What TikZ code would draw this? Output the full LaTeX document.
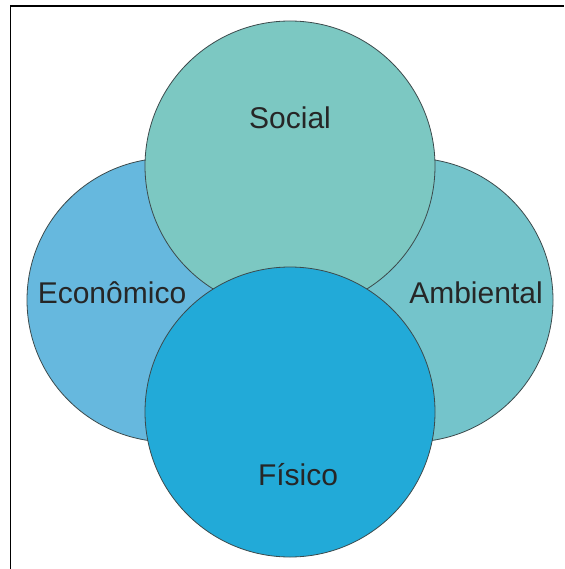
\documentclass[tikz,border=0pt]{standalone}
\usepackage{fontspec}
\setmainfont{Liberation Sans}
\definecolor{socialfill}{HTML}{7CC8C2}
\definecolor{econfill}{HTML}{66B8DE}
\definecolor{ambfill}{HTML}{74C4CB}
\definecolor{fisfill}{HTML}{22AAD8}
\definecolor{edge}{HTML}{3C4A4C}
\tikzset{
  area/.style={circle, draw=edge, line width=0.8pt, inner sep=0pt, minimum size=#1},
  area/.default=290pt,
  tag/.style={font=\fontsize{30}{36}\selectfont, text=black!85}
}

\begin{document}
\begin{tikzpicture}[x=1pt,y=-1pt]
\useasboundingbox (0,0) rectangle (564,569);
% frame
\draw[line width=1.2pt] (10.5,569) -- (10.5,6) -- (564,6);
% the four areas
\node[area=284pt, fill=econfill] (economico) at (169,300) {};
\node[area=284pt, fill=ambfill] (ambiental) at (411,300) {};
\node[area, fill=socialfill] (social) at (290,166) {};
\node[area, fill=fisfill] (fisico) at (290,412) {};
% labels
\node[tag] (socialtxt) at (290,118) {Social};
\node[tag] (economicotxt) at (112,293) {Econômico};
\node[tag] (ambientaltxt) at (476,293) {Ambiental};
\node[tag] (fisicotxt) at (298,475) {Físico};
\end{tikzpicture}
\end{document}
